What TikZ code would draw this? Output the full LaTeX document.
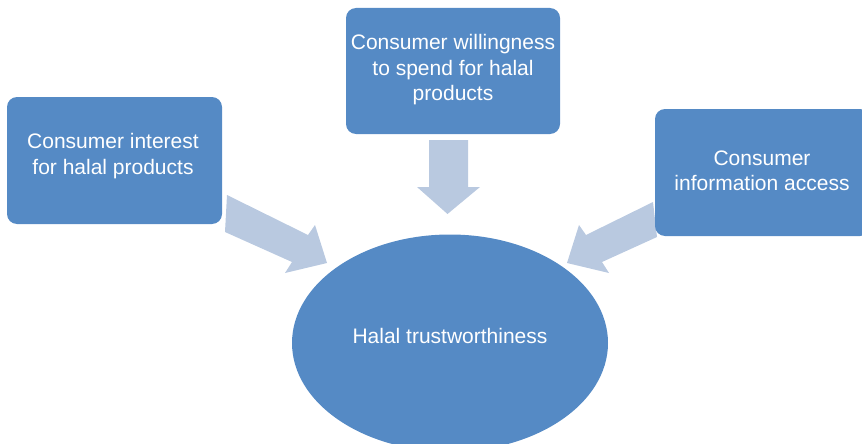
\documentclass[tikz,border=0pt]{standalone}
\usepackage{fontspec}
\setmainfont{Liberation Sans}
\usetikzlibrary{shapes.geometric}
\definecolor{boxblue}{RGB}{85,138,197}
\definecolor{arrowblue}{RGB}{185,201,224}
\tikzset{
  box/.style={draw=none, fill=boxblue, rounded corners=10pt, text=white, align=center,
    font=\fontsize{21}{25.5}\selectfont},
  blockarrow/.style={fill=arrowblue, draw=none},
  oval/.style={ellipse, fill=boxblue, draw=none, minimum width=316pt, minimum height=217pt,
    inner sep=0pt},
  label text/.style={text=white, align=center, font=\fontsize{21}{25.5}\selectfont}
}
\begin{document}
\begin{tikzpicture}[x=1pt,y=-1pt]
\useasboundingbox (0,0) rectangle (862,444);
\clip (0,0) rectangle (862,444);
% arrows
\fill[blockarrow] (227,195) -- (308,235) -- (315,225) -- (327,263) -- (285,273) -- (292,262) -- (225,232) -- cycle;
\fill[blockarrow] (429,140) -- (468,140) -- (468,187) -- (480,187) -- (447.5,214) -- (417,187) -- (429,187) -- cycle;
\fill[blockarrow] (653,202) -- (586,235) -- (579,225) -- (567,263) -- (609,273) -- (602,262) -- (657,237) -- cycle;
% boxes
\path[box] (7,97) rectangle (222,224);
\node[label text] (interest) at (113,156) {Consumer interest\\for halal products};
\path[box] (346,8) rectangle (560,134);
\node[label text] (willing) at (453,70) {Consumer willingness\\to spend for halal\\products};
\path[box] (655,109) rectangle (870,236);
\node[label text] (info) at (762,171) {Consumer\\information access};
% ellipse
\node[oval] (trust) at (450,343) {};
\node[label text] (trusttext) at (450,336) {Halal trustworthiness};
\end{tikzpicture}
\end{document}
